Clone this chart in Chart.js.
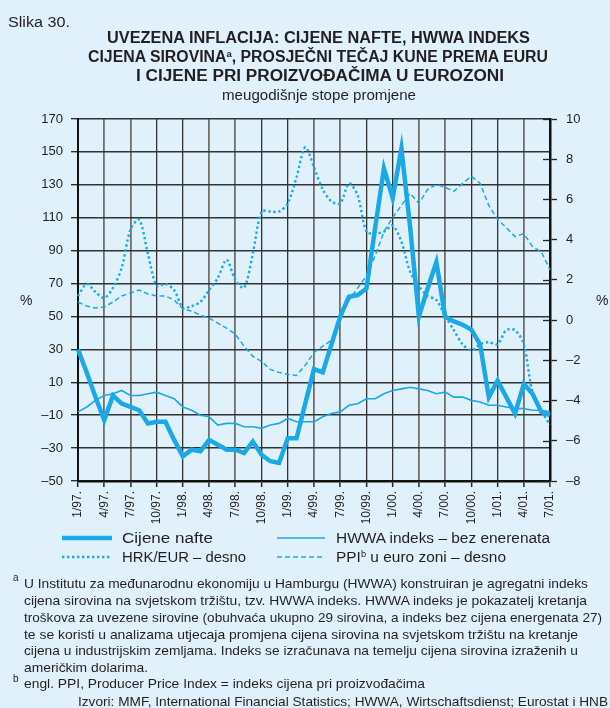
<!DOCTYPE html>
<html><head><meta charset="utf-8">
<script src="https://cdn.jsdelivr.net/npm/chart.js@4.4.1/dist/chart.umd.min.js"></script>
<style>
html,body{margin:0;padding:0;background:#e0f1fb;}
body{width:610px;height:708px;position:relative;overflow:hidden;font-family:"Liberation Sans",Arial,sans-serif;color:#231f20;}
.t{position:absolute;white-space:nowrap;line-height:1;transform-origin:0 0;}
.b{font-family:"Liberation Sans Narrow","Liberation Sans",Arial,sans-serif;font-weight:bold;font-size:16px;}
sup{font-size:0.6em;vertical-align:0.55em;line-height:0;}
#c{position:absolute;left:0;top:0;}
svg{position:absolute;left:0;top:0;}
</style></head><body>
<canvas id="c" width="610" height="530"></canvas>

<div class="t" id="slika" style="left:8px;top:15px;font-size:14px;">Slika 30.</div>
<div class="t b" id="t1" style="top:30px;">UVEZENA INFLACIJA: CIJENE NAFTE, HWWA INDEKS</div>
<div class="t b" id="t2" style="top:49px;">CIJENA SIROVINA<sup>a</sup>, PROSJEČNI TEČAJ KUNE PREMA EURU</div>
<div class="t b" id="t3" style="top:68px;">I CIJENE PRI PROIZVOĐAČIMA U EUROZONI</div>
<div class="t" id="t4" style="top:88px;font-size:14.5px;">meugodišnje stope promjene</div>

<div class="t" style="left:20px;top:293px;font-size:14px;">%</div>
<div class="t" style="left:596px;top:293px;font-size:14px;">%</div>

<svg width="610" height="708">
  <line x1="62" y1="538" x2="112" y2="538" stroke="#1aa9e6" stroke-width="4.5"/>
  <line x1="277" y1="538" x2="325" y2="538" stroke="#1aa9e6" stroke-width="1.6"/>
  <line x1="62" y1="557" x2="112" y2="557" stroke="#1aa9e6" stroke-width="2.4" stroke-dasharray="2.4 2.6"/>
  <line x1="277" y1="557" x2="325" y2="557" stroke="#1aa9e6" stroke-width="1.6" stroke-dasharray="5 3"/>
</svg>
<div class="t" id="l1" style="left:122px;top:530px;font-size:15.5px;">Cijene nafte</div>
<div class="t" id="l2" style="left:336px;top:530px;font-size:15.5px;">HWWA indeks – bez enerenata</div>
<div class="t" id="l3" style="left:122px;top:549px;font-size:15.5px;">HRK/EUR – desno</div>
<div class="t" id="l4" style="left:336px;top:549px;font-size:15.5px;">PPI<sup>b</sup> u euro zoni – desno</div>

<div class="t" style="left:13px;top:573px;font-size:10px;">a</div>
<div class="t fn" id="f1" style="left:24px;top:577px;font-size:13px;">U Institutu za međunarodnu ekonomiju u Hamburgu (HWWA) konstruiran je agregatni indeks</div>
<div class="t fn" id="f2" style="left:24px;top:594px;font-size:13px;">cijena sirovina na svjetskom tržištu, tzv. HWWA indeks. HWWA indeks je pokazatelj kretanja</div>
<div class="t fn" id="f3" style="left:24px;top:611px;font-size:13px;">troškova za uvezene sirovine (obuhvaća ukupno 29 sirovina, a indeks bez cijena energenata 27)</div>
<div class="t fn" id="f4" style="left:24px;top:628px;font-size:13px;">te se koristi u analizama utjecaja promjena cijena sirovina na svjetskom tržištu na kretanje</div>
<div class="t fn" id="f5" style="left:24px;top:644px;font-size:13px;">cijena u industrijskim zemljama. Indeks se izračunava na temelju cijena sirovina izraženih u</div>
<div class="t fn" id="f6" style="left:24px;top:661px;font-size:13px;">američkim dolarima.</div>
<div class="t" style="left:13px;top:674px;font-size:10px;">b</div>
<div class="t fn" id="f7" style="left:24px;top:677px;font-size:13px;">engl. PPI, Producer Price Index = indeks cijena pri proizvođačima</div>
<div class="t fn" id="f8" style="left:78px;top:695px;font-size:13px;">Izvori: MMF, International Financial Statistics; HWWA, Wirtschaftsdienst; Eurostat i HNB</div>

<script>
// ---- data (monthly, 1/97 – 7/01) ----
const months = [
 '1/97','2/97','3/97','4/97','5/97','6/97','7/97','8/97','9/97','10/97','11/97','12/97',
 '1/98','2/98','3/98','4/98','5/98','6/98','7/98','8/98','9/98','10/98','11/98','12/98',
 '1/99','2/99','3/99','4/99','5/99','6/99','7/99','8/99','9/99','10/99','11/99','12/99',
 '1/00','2/00','3/00','4/00','5/00','6/00','7/00','8/00','9/00','10/00','11/00','12/00',
 '1/01','2/01','3/01','4/01','5/01','6/01','7/01'];
const quarterLabels = ['1/97.','4/97.','7/97.','10/97.','1/98.','4/98.','7/98.','10/98.','1/99.','4/99.','7/99.','10/99.','1/00.','4/00.','7/00.','10/00.','1/01.','4/01.','7/01.'];
// left axis, %
const oil = [30,16,1,-13,2,-3,-5,-7,-15,-14, -14,-25,-35,-31,-32,-25,-28,-31,-31,-33,
 -26,-34,-38,-39,-24,-24,-3,18,16,33, 50,62,63,67,104,140,122,152,104,50,
 67,83,50,47,45,42,33,1,11,1, -9,9,3,-8,-10];
const hwwa = [-8,-5,-1,2,3,5,2,2,3,4, 2,0,-5,-7,-10,-11,-16,-15,-15,-17,
 -17,-18,-16,-15,-12,-14,-14,-14,-11,-9, -8,-4,-3,0,0,3,5,6,7,6,
 5,3,4,1,1,-1,-2,-4,-4,-5, -6,-6,-7,-7,-8];
// right axis, %
const hrkEur = [1.2,1.8,1.4,1.1,1.6,2.6,4.5,5.0,3.3,1.7, 1.8,1.5,0.6,0.7,0.9,1.5,2.1,3.0,2.0,1.6,
 3.3,5.4,5.4,5.4,5.8,7.1,8.6,7.6,6.5,5.9, 5.8,6.8,6.2,4.4,4.3,4.4,4.7,3.9,2.4,1.7,
 1.2,1.0,0.2,-0.5,-1.2,-1.5,-1.2,-1.1,-1.2,-0.5, -0.5,-1.2,-3.6,-4.5,-5.2];
const ppi = [0.9,0.7,0.6,0.65,0.9,1.2,1.35,1.5,1.3,1.2, 1.2,1.0,0.55,0.45,0.25,0.1,-0.15,-0.4,-0.7,-1.3,
 -1.8,-2.05,-2.45,-2.6,-2.7,-2.75,-2.25,-1.6,-1.3,-1.0, 0.0,1.0,1.6,2.2,3.2,4.4,5.1,5.7,6.3,5.8,
 6.5,6.75,6.6,6.4,6.8,7.15,6.8,5.7,5.0,4.6, 4.15,4.3,3.65,3.4,2.5];

const LINE = '#1aa9e6';
const GRID_DARK = '#333333', GRID_GRAY = '#707070';
const fmt = v => v < 0 ? '\u2013' + Math.abs(v) : String(v);

const innerTicks = {
  id: 'innerTicks',
  afterDraw(chart) {
    const s = chart.scales.y2, c = chart.ctx;
    c.save(); c.strokeStyle = '#222'; c.lineWidth = 1.3;
    s.ticks.forEach(t => {
      const y = Math.round(s.getPixelForValue(t.value)) + 0.5;
      c.beginPath(); c.moveTo(s.left - 7, y); c.lineTo(s.left, y); c.stroke();
    });
    c.restore();
  }
};

new Chart(document.getElementById('c'), {
  type: 'line',
  data: {
    labels: months,
    datasets: [
      {label:'Cijene nafte', data: oil, yAxisID:'y', borderColor: LINE, borderWidth: 4.5, pointRadius: 0, tension: 0, borderJoinStyle:'miter'},
      {label:'HWWA indeks – bez enerenata', data: hwwa, yAxisID:'y', borderColor: LINE, borderWidth: 1.6, pointRadius: 0, tension: 0},
      {label:'HRK/EUR – desno', data: hrkEur, yAxisID:'y2', borderColor: LINE, borderWidth: 2.4, borderDash:[2.4,2.6], pointRadius: 0, tension: 0.3},
      {label:'PPI u euro zoni – desno', data: ppi, yAxisID:'y2', borderColor: LINE, borderWidth: 1.5, borderDash:[5,3], pointRadius: 0, tension: 0}
    ]
  },
  options: {
    responsive: false, animation: false, devicePixelRatio: 1,
    layout: {padding: {top: 119, left: 0, right: 0, bottom: 0}},
    plugins: {legend: {display: false}, tooltip: {enabled: false}},
    scales: {
      x: {
        type: 'category', offset: false,
        grid: {
          color: c => c.index % 3 !== 0 ? 'rgba(0,0,0,0)' : ((c.index % 12 === 0 || c.index % 12 === 9) ? GRID_DARK : GRID_GRAY),
          lineWidth: c => (c.index % 12 === 0 || c.index % 12 === 9) ? 1.3 : 1.8,
          tickLength: 6,
          tickColor: c => c.index % 3 === 0 ? '#222' : 'rgba(0,0,0,0)',
          tickWidth: 1.5
        },
        border: {color: '#111', width: 2.5},
        ticks: {autoSkip: false, maxRotation: 90, minRotation: 90, padding: 4, color: '#231f20',
          font: {size: 12, family: '"Liberation Sans", Arial, sans-serif'},
          callback: (v, i) => i % 3 === 0 ? quarterLabels[i / 3] : ''},
        afterFit: s => { s.height = 49; }
      },
      y: {
        position: 'left', min: -50, max: 170,
        ticks: {stepSize: 20, padding: 8, color: '#231f20', font: {size: 13, family: '"Liberation Sans", Arial, sans-serif'}, callback: v => fmt(v)},
        grid: {color: GRID_DARK, lineWidth: 1.4, tickLength: 7, tickColor: '#222', tickWidth: 1.3},
        border: {color: '#111', width: 2},
        afterFit: s => { s.width = 78; }
      },
      y2: {
        position: 'right', min: -8, max: 10,
        ticks: {stepSize: 2, padding: 9, color: '#231f20', font: {size: 13, family: '"Liberation Sans", Arial, sans-serif'}, callback: v => fmt(v)},
        grid: {drawOnChartArea: false, tickLength: 7, tickColor: '#222', tickWidth: 1.3},
        border: {color: '#111', width: 2.5},
        afterFit: s => { s.width = 60; }
      }
    }
  },
  plugins: [innerTicks]
});

// fit text blocks to reference widths
function fit(id, x0, x1) {
  const el = document.getElementById(id);
  const w = el.getBoundingClientRect().width;
  el.style.left = x0 + 'px';
  el.style.transform = 'scaleX(' + ((x1 - x0) / w) + ')';
}
fit('slika', 8, 70);
fit('t1', 107, 530);
fit('t2', 88, 548);
fit('t3', 136, 504);
fit('t4', 222, 416);
fit('l1', 122, 213);
fit('l2', 336, 550);
fit('l3', 122, 246);
fit('l4', 336, 506);
fit('f1', 24, 588);
fit('f2', 24, 587);
fit('f3', 24, 602);
fit('f4', 24, 578);
fit('f5', 24, 578);
fit('f6', 24, 148);
fit('f7', 24, 425);
fit('f8', 78, 608);
</script>
</body></html>
